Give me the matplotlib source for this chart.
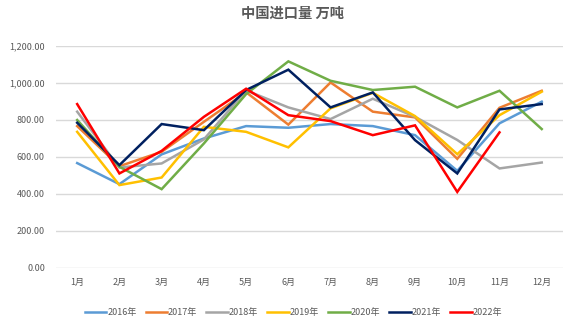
import matplotlib
matplotlib.use("Agg")
import matplotlib.pyplot as plt
import numpy as np

plt.rcParams['font.family'] = ['Noto Sans CJK SC', 'DejaVu Sans']

TEXT_COLOR = "#595959"
GRID_COLOR = "#D9D9D9"

months = ["1月", "2月", "3月", "4月", "5月", "6月", "7月", "8月", "9月", "10月", "11月", "12月"]

y2016 = [567, 453, 614, 700, 767, 758, 778, 767, 718, 525, 782, 899]
y2017 = [767, 550, 628, 790, 950, 775, 1003, 845, 814, 590, 866, 958]
y2018 = [845, 543, 565, 695, 960, 868, 805, 915, 817, 692, 538, 570]
y2019 = [736, 448, 489, 763, 736, 652, 863, 947, 821, 615, 826, 953]
y2020 = [800, 547, 426, 673, 940, 1117, 1012, 962, 980, 868, 958, 751]
y2021 = [785, 556, 778, 745, 962, 1072, 868, 949, 691, 511, 857, 886]
y2022 = [886, 511, 633, 817, 969, 826, 794, 718, 771, 411, 733]

series = [
    ("2016年", y2016, "#5B9BD5"),
    ("2017年", y2017, "#ED7D31"),
    ("2018年", y2018, "#A5A5A5"),
    ("2019年", y2019, "#FFC000"),
    ("2020年", y2020, "#70AD47"),
    ("2021年", y2021, "#002060"),
    ("2022年", y2022, "#FF0000"),
]

fig = plt.figure(figsize=(5.72, 3.24), dpi=100)
ax = fig.add_axes([0.098, 0.173, 0.886, 0.685])

for label, vals, color in series:
    ax.plot(np.arange(len(vals)), vals, color=color, linewidth=1.8, label=label,
            solid_joinstyle="miter")

ax.set_xlim(-0.5, 11.5)
ax.set_ylim(0, 1200)
ax.set_yticks(np.arange(0, 1201, 200))
ax.set_yticklabels([f"{v:,.2f}" for v in np.arange(0, 1201, 200)])
ax.set_xticks(np.arange(12))
ax.set_xticklabels(months)
ax.grid(True, axis="y", color=GRID_COLOR, linewidth=1.0)
ax.set_axisbelow(True)
for spine in ax.spines.values():
    spine.set_visible(False)
ax.tick_params(axis="both", length=0, colors=TEXT_COLOR, labelsize=6.5)
ax.tick_params(axis="y", pad=8)
ax.tick_params(axis="x", pad=7)

fig.text(0.511, 0.957, "中国进口量 万吨", ha="center", va="center",
         fontsize=10.3, fontweight="bold", color=TEXT_COLOR)

fig.legend(loc="center", bbox_to_anchor=(0.513, 0.034), ncol=7, frameon=False,
           fontsize=6.5, handlelength=2.4, handletextpad=0.1, columnspacing=1.0,
           labelcolor=TEXT_COLOR)

fig.savefig("out.png", dpi=100, facecolor="white")
plt.close(fig)
